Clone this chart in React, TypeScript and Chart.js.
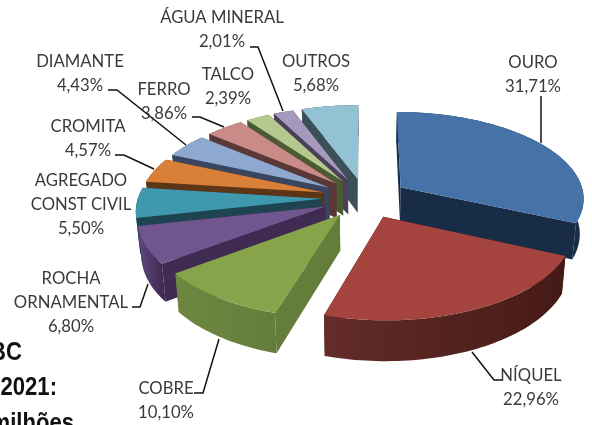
import React, { useEffect, useRef } from "react";
import { Chart, registerables } from "chart.js";

Chart.register(...registerables);

const categories = ["OURO", "NÍQUEL", "COBRE", "ROCHA ORNAMENTAL", "AGREGADO CONST CIVIL", "CROMITA", "DIAMANTE", "FERRO", "TALCO", "ÁGUA MINERAL", "OUTROS"];
const shares = [31.71, 22.96, 10.1, 6.8, 5.5, 4.57, 4.43, 3.86, 2.39, 2.01, 5.68];
const topColors = ["#4572a7", "#a5433f", "#88a44b", "#71558e", "#4098ae", "#d97f38", "#8ea8d0", "#c98b87", "#b5c98e", "#a799be", "#92c2d4"];
const sideDark = ["#182c45", "#451a16", "#647d3a", "#402c52", "#1d4450", "#5c3416", "#3a4660", "#5a3836", "#4c5a34", "#4a4058", "#3c5058"];
const sideLight = ["#1c3350", "#642c28", "#6e8740", "#5e4880", "#1d4450", "#5c3416", "#3a4660", "#5a3836", "#4c5a34", "#4a4058", "#3c5058"];

const labelLines = [
  { lines: ["OURO", "31,71%"], x: 533, y: 63 },
  { lines: ["NÍQUEL", "22,96%"], x: 531, y: 376 },
  { lines: ["COBRE", "10,10%"], x: 166, y: 389 },
  { lines: ["ROCHA", "ORNAMENTAL", "6,80%"], x: 71, y: 279 },
  { lines: ["AGREGADO", "CONST CIVIL", "5,50%"], x: 81, y: 181 },
  { lines: ["CROMITA", "4,57%"], x: 88, y: 127 },
  { lines: ["DIAMANTE", "4,43%"], x: 80, y: 62 },
  { lines: ["FERRO", "3,86%"], x: 164, y: 90 },
  { lines: ["TALCO", "2,39%"], x: 228, y: 75 },
  { lines: ["ÁGUA MINERAL", "2,01%"], x: 222, y: 18 },
  { lines: ["OUTROS", "5,68%"], x: 316, y: 62 },
];
const leaders = [
  [[541, 96], [541, 143]],
  [[472, 352], [494, 380], [503, 380]],
  [[194, 393], [203, 393], [219, 339]],
  [[132, 307], [140, 307], [148, 284]],
  [[115, 155], [124, 155], [154, 169]],
  [[108, 90], [117, 90], [186, 145]],
  [[192, 117], [200, 117], [224, 127]],
  [[250, 47], [258, 47], [283, 111]],
];
const clippedTitle = [
  { text: "BC", x: 22, y: 360 },
  { text: "2021:", x: 57, y: 395 },
  { text: "milhões", x: 74, y: 431 },
];

const EXPLODE = 43;
const FLATTEN = 0.47;
const PERSPECTIVE = 0.00064;
const DEPTH = 35;
const DEPTH_TAPER = 0.0005;
const LABEL_FONT = '16.7px Lato, "Open Sans", sans-serif';
const TITLE_SQUEEZE = 0.85;

const pie3d = {
  id: "pie3d",
  beforeDatasetDraw(chart: any, args: any) {
    const { ctx } = chart;
    const arcs = args.meta.data as any[];
    const project = (cx: number, cy: number, wx: number, wy: number, z: number) => {
      const f = 1 / (1 - PERSPECTIVE * wy);
      return [cx + wx * f * (1 - DEPTH_TAPER * z), cy + FLATTEN * wy * f + z * f];
    };
    const order = arcs
      .map((a, i) => ({ a, i, mid: (a.startAngle + a.endAngle) / 2 }))
      .sort((p, q) => Math.sin(p.mid) - Math.sin(q.mid));
    ctx.save();
    for (const { a, i, mid } of order) {
      const ex = Math.cos(mid) * EXPLODE;
      const ey = Math.sin(mid) * EXPLODE;
      const R = a.outerRadius;
      const n = Math.max(6, Math.ceil((a.endAngle - a.startAngle) * 40));
      const rim: number[][] = [];
      for (let s = 0; s <= n; s++) {
        const t = a.startAngle + ((a.endAngle - a.startAngle) * s) / n;
        rim.push([ex + R * Math.cos(t), ey + R * Math.sin(t)]);
      }
      const P = (w: number[], z: number) => project(a.x, a.y, w[0], w[1], z);
      const polygon = (pts: number[][], fill: any) => {
        ctx.beginPath();
        pts.forEach((p, k) => (k ? ctx.lineTo(p[0], p[1]) : ctx.moveTo(p[0], p[1])));
        ctx.closePath();
        ctx.fillStyle = fill;
        ctx.fill();
      };
      const apex = [ex, ey];
      const cut = (w: number[]) => polygon([P(apex, 0), P(w, 0), P(w, DEPTH), P(apex, DEPTH)], sideDark[i]);
      cut(rim[0]);
      cut(rim[n]);
      const xs = rim.map((w) => P(w, 0)[0]);
      const grad = ctx.createLinearGradient(Math.min(...xs), 0, Math.max(...xs), 0);
      grad.addColorStop(0, sideLight[i]);
      grad.addColorStop(1, sideDark[i]);
      polygon([...rim.map((w) => P(w, 0)), ...rim.slice().reverse().map((w) => P(w, DEPTH))], grad);
      polygon([P(apex, 0), ...rim.map((w) => P(w, 0))], a.options.backgroundColor);
    }
    ctx.restore();
    return false;
  },
  afterDraw(chart: any) {
    const { ctx } = chart;
    ctx.save();
    ctx.strokeStyle = "#111111";
    ctx.lineWidth = 1.5;
    for (const l of leaders) {
      ctx.beginPath();
      l.forEach((p, k) => (k ? ctx.lineTo(p[0], p[1]) : ctx.moveTo(p[0], p[1])));
      ctx.stroke();
    }
    ctx.fillStyle = "#3a3a3a";
    ctx.font = LABEL_FONT;
    ctx.textAlign = "center";
    ctx.textBaseline = "middle";
    for (const l of labelLines) {
      l.lines.forEach((t, k) => ctx.fillText(t, l.x, l.y + k * 23.7));
    }
    ctx.fillStyle = "#111111";
    ctx.font = 'bold 26px "Liberation Sans", Arial, sans-serif';
    ctx.textAlign = "right";
    ctx.textBaseline = "alphabetic";
    for (const t of clippedTitle) {
      ctx.save();
      ctx.translate(t.x, t.y);
      ctx.scale(TITLE_SQUEEZE, 1);
      ctx.fillText(t.text, 0, 0);
      ctx.restore();
    }
    ctx.restore();
  },
};

export default function App() {
  const ref = useRef<HTMLCanvasElement>(null);
  useEffect(() => {
    const chart = new Chart(ref.current as HTMLCanvasElement, {
      type: "pie",
      data: {
        labels: categories,
        datasets: [{ data: shares, backgroundColor: topColors, borderWidth: 0 }],
      },
      options: {
        animation: false,
        responsive: false,
        layout: { padding: { left: 181, right: 43, top: 14, bottom: 43 } },
        plugins: { legend: { display: false }, tooltip: { enabled: false } },
        events: [],
      },
      plugins: [pie3d],
    } as any);
    return () => chart.destroy();
  }, []);
  return (
    <div style={{ position: "absolute", left: 0, top: 0, width: 592, height: 425, overflow: "hidden", background: "#fff" }}>
      <canvas ref={ref} width={592} height={425} style={{ display: "block" }} />
    </div>
  );
}
